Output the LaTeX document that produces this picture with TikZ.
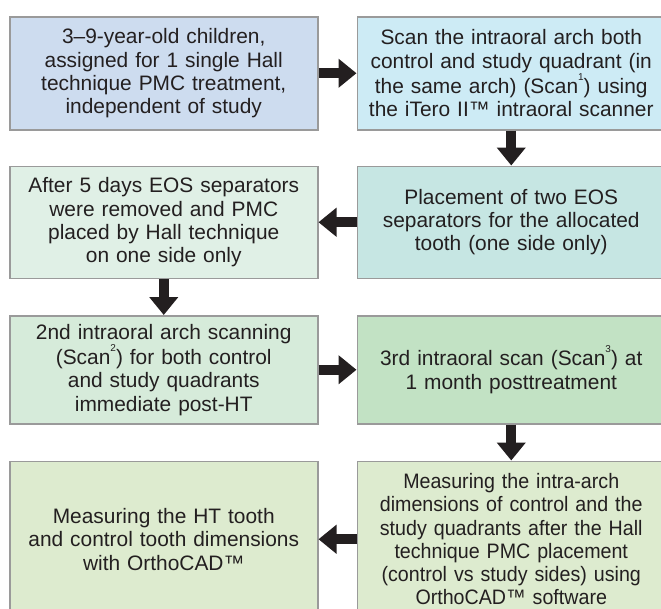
\documentclass[tikz,border=0pt]{standalone}
\usepackage{fontspec}
\setmainfont{Liberation Sans}
\usepackage{xcolor}
\usepackage{tikz}
\usetikzlibrary{positioning}
\usetikzlibrary{arrows.meta}
\definecolor{txtcol}{HTML}{231F20}
\definecolor{edgecol}{HTML}{9A9A9A}
\definecolor{fillA}{HTML}{CDDCEF}
\definecolor{fillB}{HTML}{CDEBF5}
\definecolor{fillC}{HTML}{E0F0E6}
\definecolor{fillD}{HTML}{C6E6E3}
\definecolor{fillE}{HTML}{D6EBDA}
\definecolor{fillF}{HTML}{C2E2C4}
\definecolor{fillG}{HTML}{DDEBCF}
\newcommand{\scanno}[1]{\raisebox{0.62em}{\fontsize{10}{10}\selectfont #1}}
\tikzset{
  stepbox/.style={
    draw=edgecol, line width=1.5pt, text=txtcol,
    minimum width=308pt, text width=300pt, inner xsep=4pt, inner ysep=0pt,
    align=center, font=\fontsize{20.9}{23.3}\selectfont,
  },
  narrowbox/.style={
    stepbox, font=\fontsize{20.9}{23.3}\selectfont\addfontfeature{FakeStretch=0.94},
  },
  flowarrow/.style={
    draw=txtcol, line width=10pt,
    -{Triangle[length=18pt,width=28pt]},
  },
}
\begin{document}
\begin{tikzpicture}

  \useasboundingbox (0,0) rectangle (661pt,-608pt);
  \clip (0,0) rectangle (661pt,-608pt);

  % Define nodes
  \node[stepbox, fill=fillA, minimum height=113pt, anchor=north west] at (9pt,-16pt) (children)
    {3--9-year-old children,\\ assigned for 1 single Hall\\ technique PMC treatment,\\ independent of study};
  \node[stepbox, fill=fillB, minimum height=113pt, right=38pt of children] (scan1)
    {Scan the intraoral arch both\\ control and study quadrant (in\\ the same arch) (Scan\scanno{1}) using\\ the iTero II™ intraoral scanner};

  \node[stepbox, fill=fillD, minimum height=112pt, below=35pt of scan1] (separators)
    {Placement of two EOS\\ separators for the allocated\\ tooth (one side only)};
  \node[stepbox, fill=fillC, minimum height=112pt, left=38pt of separators] (hallpmc)
    {After 5 days EOS separators\\ were removed and PMC\\ placed by Hall technique\\ on one side only};

  \node[stepbox, fill=fillE, minimum height=108pt, below=36pt of hallpmc] (scan2)
    {2nd intraoral arch scanning\\ (Scan\scanno{2}) for both control\\ and study quadrants\\ immediate post-HT};
  \node[stepbox, fill=fillF, minimum height=108pt, right=38pt of scan2] (scan3)
    {3rd intraoral scan (Scan\scanno{3}) at\\ 1 month posttreatment};

  \node[narrowbox, fill=fillG, minimum height=156pt, below=36pt of scan3] (intraarch)
    {Measuring the intra-arch\\ dimensions of control and the\\ study quadrants after the Hall\\ technique PMC placement\\ (control vs study sides) using\\ OrthoCAD™ software};
  \node[stepbox, fill=fillG, minimum height=156pt, left=38pt of intraarch] (toothdim)
    {Measuring the HT tooth\\ and control tooth dimensions\\ with OrthoCAD™};

  % Connect nodes
  \draw[flowarrow] (children) -- (scan1);
  \draw[flowarrow] (scan1) -- (separators);
  \draw[flowarrow] (separators) -- (hallpmc);
  \draw[flowarrow] (hallpmc) -- (scan2);
  \draw[flowarrow] (scan2) -- (scan3);
  \draw[flowarrow] (scan3) -- (intraarch);
  \draw[flowarrow] (intraarch) -- (toothdim);

\end{tikzpicture}
\end{document}
